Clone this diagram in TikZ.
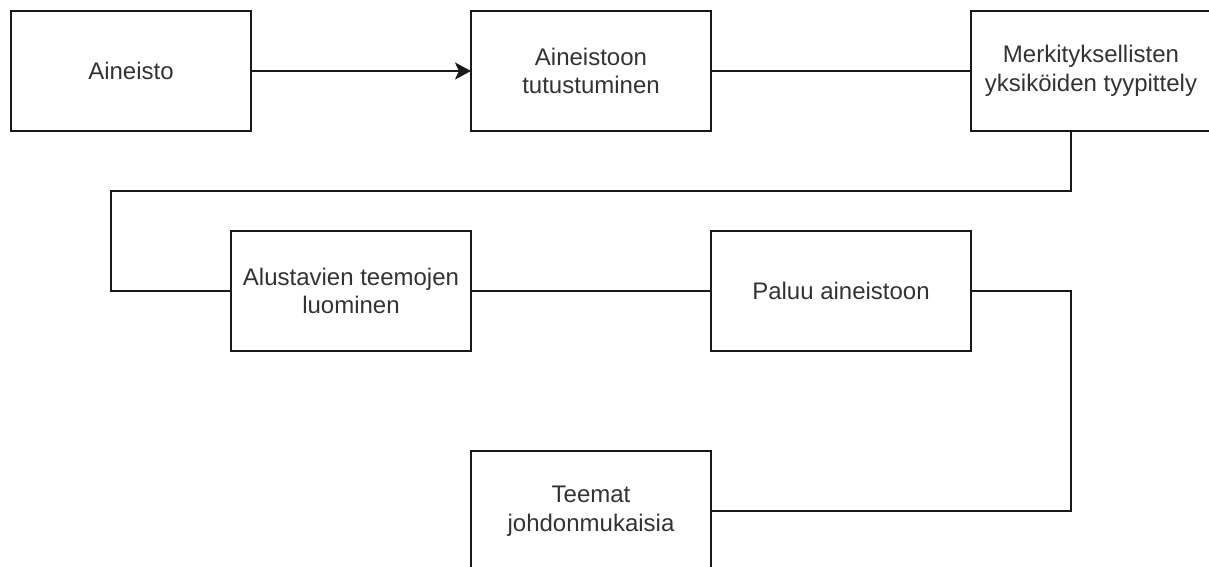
\documentclass[tikz,border=0pt]{standalone}
\usepackage{fontspec}
\setmainfont{Liberation Sans}
\usetikzlibrary{arrows.meta,positioning}
\tikzstyle{edge}=[
	-,
	draw=black!90,
	line width=1pt
]
\tikzstyle{arrowedge}=[
	edge,
	-{Stealth[length=8pt,width=8.5pt,inset=2pt]}
]
\tikzstyle{box}=[
	rectangle,
	draw=black!90,
	line width=1pt,
	outer sep=0pt,
	minimum width=120pt,
	minimum height=60pt,
	inner sep=1mm,
	align=center,
	text=black!80,
	font=\fontsize{12}{14.4}\selectfont
]

\begin{document}
\begin{tikzpicture}
\useasboundingbox (0,0) rectangle (604.5pt,-283.5pt);

\node[box] (1) at (65.5pt,-35.5pt) {Aineisto};
\node[box, right=110pt of 1] (2) {Aineistoon\\tutustuminen};
\node[box, right=130pt of 2] (3) {Merkityksellisten\\yksiköiden tyypittely};
\node[box, below=50pt of 1, xshift=110pt] (4) {Alustavien teemojen\\luominen};
\node[box, right=120pt of 4, minimum width=130pt] (5) {Paluu aineistoon};
\node[box, below=50pt of 4, xshift=120pt] (6) {Teemat\\johdonmukaisia};

\draw[arrowedge] (1) to (2);
\draw[edge] (2) to (3);
\draw[edge] ([xshift=-10pt]3.south) -- ++(0,-30pt) -| ([xshift=-60pt]4.west) -- (4.west);
\draw[edge] (4) to (5);
\draw[edge] (5.east) -- ++(50pt,0) |- (6.east);

\end{tikzpicture}
\end{document}
